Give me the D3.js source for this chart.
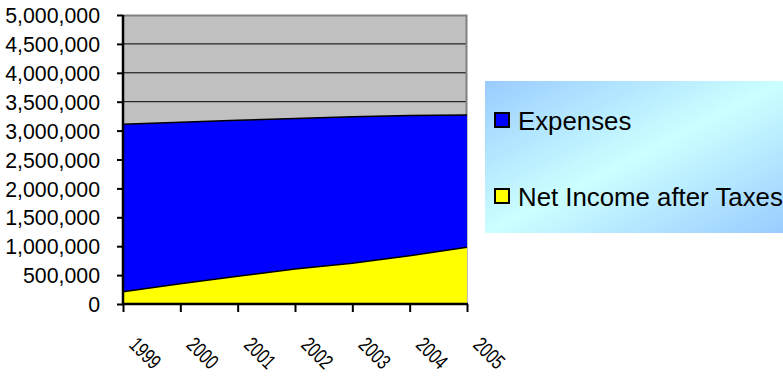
<!DOCTYPE html>
<html>
<head>
<meta charset="utf-8">
<script src="https://cdn.jsdelivr.net/npm/d3@7"></script>
<style>
    body { margin: 0; background: #fff; }
    svg { display: block; font-family: "Liberation Sans", Arial, sans-serif; }
</style>
</head>
<body>
<div id="chart"></div>
<script>

// chart data
let years = ["1999", "2000", "2001", "2002", "2003", "2004", "2005"];
let netIncome = [210000, 350000, 480000, 605000, 705000, 835000, 980000];
let expenses = [2900000, 2795000, 2700000, 2605000, 2535000, 2425000, 2290000];
let yTicks = [0, 500000, 1000000, 1500000, 2000000, 2500000, 3000000, 3500000, 4000000, 4500000, 5000000];
let seriesNames = ["Expenses", "Net Income after Taxes"];

class AreaChart {

    constructor(parentElement) {
        this.parentElement = parentElement;
        this.initVis();
    }

    initVis() {
        let vis = this;
        vis.margin = {top: 15, right: 316, bottom: 72, left: 123};
        vis.width = 783 - vis.margin.left - vis.margin.right;
        vis.height = 376 - vis.margin.top - vis.margin.bottom;

        vis.root = d3.select("#" + vis.parentElement).append("svg")
            .attr("width", 783)
            .attr("height", 376);

        let defs = vis.root.append("defs");
        let grad = defs.append("linearGradient")
            .attr("id", "legendFill")
            .attr("x1", "0%").attr("y1", "0%")
            .attr("x2", "100%").attr("y2", "100%");
        grad.append("stop").attr("offset", "0%").attr("stop-color", "#99ccff");
        grad.append("stop").attr("offset", "50%").attr("stop-color", "#ccffff");
        grad.append("stop").attr("offset", "100%").attr("stop-color", "#99ccff");

        vis.svg = vis.root.append("g")
            .attr("transform", `translate (${vis.margin.left}, ${vis.margin.top})`);

        vis.x = d3.scalePoint()
            .domain(years)
            .range([0, vis.width]);

        vis.y = d3.scaleLinear()
            .domain([0, 5000000])
            .range([vis.height, 0]);

        vis.wrangleData();
    }

    wrangleData() {
        let vis = this;
        // stack: net income at the bottom, expenses on top
        vis.rows = years.map((yr, i) => ({year: yr, net: netIncome[i], exp: expenses[i]}));
        vis.stacked = d3.stack().keys(["net", "exp"])(vis.rows);
        vis.updateVis();
    }

    updateVis() {
        let vis = this;

        // plot background
        vis.svg.append("rect")
            .attr("width", vis.width)
            .attr("height", vis.height)
            .attr("fill", "#c0c0c0");

        // gridlines
        vis.svg.append("g")
            .selectAll("line")
            .data(yTicks.filter(d => d > 0 && d < 5000000))
            .join("line")
            .attr("x1", 0)
            .attr("x2", vis.width)
            .attr("y1", d => vis.y(d))
            .attr("y2", d => vis.y(d))
            .attr("stroke", "#000")
            .attr("stroke-width", 1);

        // plot border top / right
        vis.svg.append("path")
            .attr("d", `M0,0.5H${vis.width - 0.5}V${vis.height}`)
            .attr("fill", "none")
            .attr("stroke", "#808080")
            .attr("stroke-width", 2);

        let colors = {net: "#ffff00", exp: "#0000ff"};
        let area = d3.area()
            .x(d => vis.x(d.data.year))
            .y0(d => vis.y(d[0]))
            .y1(d => vis.y(d[1]));
        let topLine = d3.line()
            .x(d => vis.x(d.data.year))
            .y(d => vis.y(d[1]));

        vis.svg.append("g")
            .selectAll("path")
            .data(vis.stacked)
            .join("path")
            .attr("d", area)
            .attr("fill", d => colors[d.key]);

        vis.svg.append("g")
            .selectAll("path")
            .data(vis.stacked)
            .join("path")
            .attr("d", topLine)
            .attr("fill", "none")
            .attr("stroke", "#000")
            .attr("stroke-width", 1.5);

        // y axis
        let yAxis = d3.axisLeft(vis.y)
            .tickValues(yTicks)
            .tickSize(6)
            .tickPadding(17)
            .tickFormat(d3.format(","));
        let yG = vis.svg.append("g")
            .attr("class", "axis y-axis")
            .call(yAxis);
        yG.select(".domain").remove();
        yG.selectAll(".tick line").attr("stroke", "#000").attr("stroke-width", 2);
        yG.selectAll(".tick text")
            .attr("font-size", "21.3px")
            .attr("fill", "#000")
            .attr("dy", "0.36em");
        yG.append("line")
            .attr("x1", 0).attr("x2", 0)
            .attr("y1", 0).attr("y2", vis.height + 1)
            .attr("stroke", "#000")
            .attr("stroke-width", 2.5);

        // x axis
        let xAxis = d3.axisBottom(vis.x)
            .tickSize(8)
            .tickFormat("");
        let xG = vis.svg.append("g")
            .attr("class", "axis x-axis")
            .attr("transform", `translate (0,${vis.height})`)
            .call(xAxis);
        xG.select(".domain")
            .attr("d", `M-1,0H${vis.width + 1}`)
            .attr("stroke", "#000")
            .attr("stroke-width", 2.5);
        xG.selectAll(".tick line").attr("stroke", "#000").attr("stroke-width", 2);

        // rotated, squeezed year labels
        vis.svg.append("g")
            .selectAll("text")
            .data(years)
            .join("text")
            .text(d => d)
            .attr("transform", d => `translate(${vis.x(d) + 5}, ${vis.height + 42}) rotate(45) scale(0.74, 1)`)
            .attr("text-anchor", "start")
            .attr("font-size", "21px")
            .attr("fill", "#000");

        // legend
        let legend = vis.root.append("g")
            .attr("transform", "translate(485, 81)");
        legend.append("rect")
            .attr("width", 300)
            .attr("height", 152)
            .attr("fill", "url(#legendFill)");

        let legendColors = ["#0000ff", "#ffff00"];
        let items = legend.selectAll("g.item")
            .data(seriesNames)
            .join("g")
            .attr("class", "item")
            .attr("transform", (d, i) => `translate(0, ${i * 76})`);
        items.append("rect")
            .attr("x", 10)
            .attr("y", 32)
            .attr("width", 14)
            .attr("height", 14)
            .attr("fill", (d, i) => legendColors[i])
            .attr("stroke", "#000")
            .attr("stroke-width", 2);
        items.append("text")
            .attr("x", 33)
            .attr("y", 48.5)
            .attr("font-size", "25.8px")
            .attr("fill", "#000")
            .text(d => d);
    }
}

let chart = new AreaChart("chart");
</script>
</body>
</html>
